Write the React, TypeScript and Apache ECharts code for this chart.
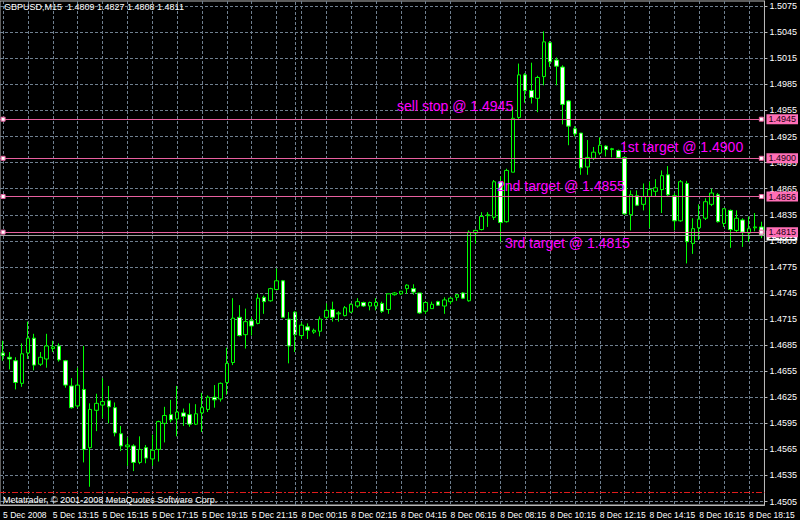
import React, { useEffect, useRef } from 'react';
import * as echarts from 'echarts';

// ---- Data ----
const opens = [
  1.4676, 1.4671, 1.4667, 1.4641, 1.4676, 1.4693, 1.4663, 1.4669, 1.4681, 1.4684,
  1.4667, 1.4638, 1.4615, 1.4634, 1.4567, 1.4610, 1.4616, 1.4621, 1.4613, 1.4583,
  1.4568, 1.4569, 1.4550, 1.4567, 1.4554, 1.4565, 1.4595, 1.4605, 1.4600, 1.4607,
  1.4605, 1.4594, 1.4607, 1.4611, 1.4625, 1.4623, 1.4642, 1.4665, 1.4717, 1.4697,
  1.4713, 1.4710, 1.4740, 1.4736, 1.4749, 1.4759, 1.4715, 1.4723, 1.4696, 1.4706,
  1.4700, 1.4701, 1.4717, 1.4726, 1.4721, 1.4719, 1.4723, 1.4730, 1.4734, 1.4730,
  1.4730, 1.4733, 1.4726, 1.4743, 1.4744, 1.4750, 1.4750, 1.4745, 1.4724, 1.4727,
  1.4735, 1.4730, 1.4735, 1.4740, 1.4745, 1.4736, 1.4814, 1.4818, 1.4834, 1.4832,
  1.4873, 1.4827, 1.4884, 1.4947, 1.4996, 1.4978, 1.4969, 1.4994, 1.5033, 1.5013,
  1.5005, 1.4966, 1.4934, 1.4929, 1.4890, 1.4900, 1.4906, 1.4914, 1.4910, 1.4909,
  1.4901, 1.4835, 1.4857, 1.4847, 1.4856, 1.4862, 1.4864, 1.4881, 1.4857, 1.4828,
  1.4871, 1.4802, 1.4820, 1.4831, 1.4847, 1.4858, 1.4825, 1.4840, 1.4817, 1.4829,
  1.4814, 1.4820, 1.4821,
];
const highs = [
  1.4690, 1.4677, 1.4671, 1.4687, 1.4712, 1.4698, 1.4677, 1.4698, 1.4690, 1.4687,
  1.4668, 1.4647, 1.4659, 1.4684, 1.4618, 1.4629, 1.4647, 1.4638, 1.4619, 1.4592,
  1.4579, 1.4571, 1.4580, 1.4570, 1.4582, 1.4598, 1.4614, 1.4622, 1.4638, 1.4612,
  1.4618, 1.4617, 1.4630, 1.4627, 1.4639, 1.4642, 1.4682, 1.4739, 1.4731, 1.4727,
  1.4717, 1.4744, 1.4742, 1.4751, 1.4773, 1.4760, 1.4723, 1.4724, 1.4711, 1.4710,
  1.4704, 1.4718, 1.4733, 1.4735, 1.4724, 1.4730, 1.4733, 1.4739, 1.4735, 1.4735,
  1.4739, 1.4735, 1.4744, 1.4746, 1.4747, 1.4755, 1.4755, 1.4745, 1.4735, 1.4735,
  1.4736, 1.4740, 1.4740, 1.4744, 1.4746, 1.4817, 1.4818, 1.4838, 1.4838, 1.4875,
  1.4879, 1.4888, 1.4959, 1.5009, 1.4998, 1.5010, 1.4995, 1.5046, 1.5035, 1.5016,
  1.5007, 1.4967, 1.4937, 1.4929, 1.4921, 1.4913, 1.4924, 1.4915, 1.4912, 1.4910,
  1.4901, 1.4863, 1.4863, 1.4871, 1.4873, 1.4876, 1.4886, 1.4891, 1.4860, 1.4875,
  1.4874, 1.4831, 1.4847, 1.4854, 1.4865, 1.4860, 1.4842, 1.4841, 1.4840, 1.4831,
  1.4833, 1.4837, 1.4827,
];
const lows = [
  1.4667, 1.4657, 1.4634, 1.4637, 1.4669, 1.4656, 1.4661, 1.4659, 1.4677, 1.4666,
  1.4636, 1.4612, 1.4613, 1.4550, 1.4522, 1.4586, 1.4601, 1.4595, 1.4580, 1.4563,
  1.4546, 1.4540, 1.4548, 1.4549, 1.4546, 1.4551, 1.4573, 1.4596, 1.4580, 1.4592,
  1.4591, 1.4593, 1.4585, 1.4608, 1.4613, 1.4620, 1.4628, 1.4662, 1.4695, 1.4681,
  1.4696, 1.4709, 1.4721, 1.4735, 1.4748, 1.4716, 1.4664, 1.4677, 1.4692, 1.4692,
  1.4698, 1.4695, 1.4715, 1.4712, 1.4712, 1.4718, 1.4722, 1.4728, 1.4729, 1.4725,
  1.4725, 1.4722, 1.4721, 1.4742, 1.4743, 1.4744, 1.4743, 1.4721, 1.4721, 1.4727,
  1.4730, 1.4721, 1.4732, 1.4736, 1.4738, 1.4735, 1.4802, 1.4817, 1.4821, 1.4829,
  1.4804, 1.4826, 1.4884, 1.4944, 1.4964, 1.4963, 1.4953, 1.4984, 1.5005, 1.4984,
  1.4939, 1.4915, 1.4925, 1.4881, 1.4881, 1.4898, 1.4904, 1.4902, 1.4901, 1.4900,
  1.4835, 1.4817, 1.4845, 1.4840, 1.4820, 1.4856, 1.4837, 1.4856, 1.4817, 1.4827,
  1.4779, 1.4790, 1.4806, 1.4829, 1.4845, 1.4826, 1.4821, 1.4797, 1.4814, 1.4798,
  1.4804, 1.4816, 1.4808,
];
const closes = [
  1.4673, 1.4669, 1.4642, 1.4675, 1.4693, 1.4662, 1.4671, 1.4684, 1.4683, 1.4668,
  1.4639, 1.4613, 1.4639, 1.4565, 1.4611, 1.4618, 1.4620, 1.4614, 1.4584, 1.4569,
  1.4570, 1.4550, 1.4565, 1.4555, 1.4564, 1.4597, 1.4604, 1.4599, 1.4608, 1.4603,
  1.4594, 1.4606, 1.4613, 1.4625, 1.4622, 1.4641, 1.4664, 1.4716, 1.4696, 1.4712,
  1.4707, 1.4739, 1.4735, 1.4750, 1.4759, 1.4717, 1.4684, 1.4697, 1.4708, 1.4702,
  1.4702, 1.4715, 1.4725, 1.4717, 1.4722, 1.4728, 1.4732, 1.4735, 1.4730, 1.4734,
  1.4734, 1.4724, 1.4744, 1.4745, 1.4747, 1.4754, 1.4746, 1.4722, 1.4734, 1.4732,
  1.4731, 1.4737, 1.4739, 1.4743, 1.4739, 1.4815, 1.4817, 1.4833, 1.4835, 1.4873,
  1.4826, 1.4886, 1.4946, 1.4996, 1.4978, 1.4970, 1.4993, 1.5034, 1.5011, 1.5006,
  1.4962, 1.4937, 1.4928, 1.4889, 1.4901, 1.4907, 1.4915, 1.4910, 1.4911, 1.4901,
  1.4836, 1.4858, 1.4846, 1.4856, 1.4864, 1.4866, 1.4880, 1.4858, 1.4828, 1.4873,
  1.4804, 1.4819, 1.4830, 1.4850, 1.4860, 1.4827, 1.4842, 1.4818, 1.4831, 1.4815,
  1.4819, 1.4821, 1.4811,
];

const priceTicks = [
  1.4505, 1.4535, 1.4565, 1.4595, 1.4625, 1.4655, 1.4685, 1.4715, 1.4745, 1.4775,
  1.4805, 1.4835, 1.4865, 1.4895, 1.4925, 1.4955, 1.4985, 1.5015, 1.5045, 1.5075,
];
const timeLabels = [
  '5 Dec 2008', '5 Dec 13:15', '5 Dec 15:15', '5 Dec 17:15', '5 Dec 19:15', '5 Dec 21:15',
  '8 Dec 00:15', '8 Dec 02:15', '8 Dec 04:15', '8 Dec 06:15', '8 Dec 08:15', '8 Dec 10:15',
  '8 Dec 12:15', '8 Dec 14:15', '8 Dec 16:15', '8 Dec 18:15',
];
const levelPrices = [1.4945, 1.49, 1.4856, 1.4815];
const levelNotes = ['sell stop @ 1.4945', '1st target @ 1.4900', '2nd target @ 1.4855', '3rd target @ 1.4815'];
const bidPrice = 1.4811;
const redLevel = 1.4516;
const headerText = 'GBPUSD,M15  1.4809 1.4827 1.4808 1.4811';
const footerText = 'Metatrader, \u00a9 2001-2008 MetaQuotes Software Corp.';

// bar times: Fri 5 Dec 11:15 - 22:45, Mon 8 Dec 00:00 - 18:45 (M15)
function pad(n: number) { return n < 10 ? '0' + n : '' + n; }
function buildCategories(): string[] {
  const out: string[] = [];
  for (let m = 11 * 60 + 15; m <= 22 * 60 + 45; m += 15) out.push('5 Dec ' + pad(Math.floor(m / 60)) + ':' + pad(m % 60));
  for (let m = 0; m <= 18 * 60 + 45; m += 15) out.push('8 Dec ' + pad(Math.floor(m / 60)) + ':' + pad(m % 60));
  return out;
}
const categories = buildCategories();

const SMALL_FONT = "'Liberation Sans Narrow', 'Liberation Sans', Arial, sans-serif";
const GRID_COLOR = '#6f7f8f';
const PINK_LINE = '#e8609f';
const PINK_BOX = '#ff6fb6';

export default function App() {
  const ref = useRef<HTMLDivElement>(null);
  useEffect(() => {
    if (!ref.current) return;
    const chart = echarts.init(ref.current, null, { renderer: 'svg' });
    const candleData = opens.map((o, i) => [o, closes[i], lows[i], highs[i]]);
    const lastIdx = categories.length - 1;

    const boxLabel = (text: string, bg: string, fg: string) => ({
      show: true,
      position: 'end',
      distance: 2,
      formatter: text,
      backgroundColor: bg,
      color: fg,
      fontSize: 9,
      fontFamily: SMALL_FONT,
      padding: [1, 2, 0, 2],
    });

    const levelLines = levelPrices.map((p) => ({
      yAxis: p,
      lineStyle: { color: PINK_LINE, type: 'solid', width: 1 },
      label: boxLabel(p.toFixed(4), PINK_BOX, '#200010'),
    }));

    const handles: any[] = [];
    levelPrices.forEach((p) => {
      handles.push({ coord: [categories[0], p] });
      handles.push({ coord: [categories[lastIdx], p] });
    });

    const notePos = [[397, 106], [620, 147], [497, 186], [505, 243]];
    const noteGraphics = levelNotes.map((t, i) => ({
      type: 'text',
      x: notePos[i][0],
      y: notePos[i][1],
      z: 100,
      style: {
        text: t,
        fill: '#ff00ff',
        fontSize: 14,
        fontFamily: "'Liberation Sans', Arial, sans-serif",
        verticalAlign: 'middle',
      },
    }));

    const option: any = {
      animation: false,
      backgroundColor: '#000000',
      grid: {
        left: 0, right: 30, top: 1, bottom: 15,
        show: true, borderColor: '#b8b8b8', borderWidth: 1, backgroundColor: '#000000',
      },
      xAxis: {
        type: 'category',
        data: categories,
        boundaryGap: true,
        axisLine: { show: true, lineStyle: { color: '#b8b8b8' } },
        axisTick: { show: false },
        axisLabel: {
          interval: 7,
          align: 'left',
          color: '#ffffff',
          fontSize: 8.5,
          fontFamily: SMALL_FONT,
          margin: 5,
          formatter: (_v: string, idx: number) => (idx % 8 === 0 ? timeLabels[idx / 8] || '' : ''),
        },
        splitLine: {
          show: true,
          interval: 3,
          alignWithLabel: true,
          lineStyle: { color: GRID_COLOR, type: [3, 2], width: 1 },
        },
      },
      yAxis: {
        type: 'value',
        position: 'right',
        min: 1.4501,
        max: 1.5081,
        axisLine: { show: true, lineStyle: { color: '#b8b8b8' } },
        axisTick: { show: true, length: 3, customValues: priceTicks, lineStyle: { color: '#b8b8b8' } },
        axisLabel: {
          customValues: priceTicks,
          color: '#ffffff',
          fontSize: 9,
          fontFamily: SMALL_FONT,
          margin: 5,
          formatter: (v: number) => v.toFixed(4),
        },
        splitLine: { show: true, lineStyle: { color: GRID_COLOR, type: [3, 2], width: 1 } },
      },
      series: [
        {
          type: 'candlestick',
          data: candleData,
          barWidth: 4,
          z: 3,
          itemStyle: {
            color: '#000000',
            color0: '#ffffff',
            borderColor: '#00ff00',
            borderColor0: '#00ff00',
            borderWidth: 1,
          },
        },
        {
          type: 'line',
          data: [],
          silent: true,
          z: 5,
          markLine: {
            silent: true,
            precision: 4,
            symbol: ['none', 'none'],
            animation: false,
            data: [
              { xAxis: categories[47], lineStyle: { color: GRID_COLOR, type: [3, 2], width: 1 }, label: { show: false } },
              { yAxis: redLevel, lineStyle: { color: '#e01c1c', type: [6, 2, 2, 2], width: 1.2 }, label: { show: false } },
              {
                yAxis: bidPrice,
                lineStyle: { color: '#a0a0a0', type: 'solid', width: 1 },
                label: boxLabel(bidPrice.toFixed(4), '#ffffff', '#000000'),
              },
              ...levelLines,
            ],
          },
          markPoint: {
            silent: true,
            symbol: 'rect',
            symbolSize: 4,
            itemStyle: { color: '#ffffff', borderColor: PINK_LINE, borderWidth: 1 },
            label: { show: false },
            data: handles,
          },
        },
      ],
      graphic: [
        {
          type: 'text', x: 4, y: 7, z: 100,
          style: { text: headerText, fill: '#ffffff', fontSize: 9, fontFamily: SMALL_FONT, verticalAlign: 'middle' },
        },
        {
          type: 'text', x: 3, y: 500, z: 100,
          style: { text: footerText, fill: '#ffffff', fontSize: 9, fontFamily: SMALL_FONT, verticalAlign: 'middle' },
        },
        ...noteGraphics,
      ],
    };
    chart.setOption(option);
    return () => chart.dispose();
  }, []);
  return (
    <div
      ref={ref}
      style={{ position: 'absolute', left: 0, top: 0, width: 800, height: 520, background: '#000' }}
    />
  );
}
